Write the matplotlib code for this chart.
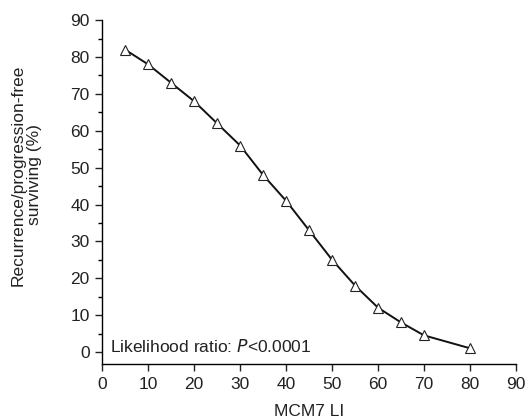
import matplotlib
matplotlib.use('Agg')
import matplotlib.pyplot as plt
from matplotlib.ticker import MultipleLocator

plt.rcParams['font.family'] = ['Liberation Sans', 'DejaVu Sans']

# MCM7 labelling index vs recurrence/progression-free surviving
mcm7_li = [5, 10, 15, 20, 25, 30, 35, 40, 45, 50, 55, 60, 65, 70, 80]
surviving = [82, 78, 73, 68, 62, 56, 48, 41, 33, 25, 18, 12, 8, 4.5, 1]

x_ticks = [0, 10, 20, 30, 40, 50, 60, 70, 80, 90]
y_ticks = [0, 10, 20, 30, 40, 50, 60, 70, 80, 90]

fig = plt.figure(figsize=(5.32, 4.2), dpi=100)
ax = fig.add_axes([0.192, 0.133, 0.778, 0.819])

ax.plot(mcm7_li, surviving, color='#111111', lw=1.4, marker='^',
        ms=7, mfc='white', mec='#222222', mew=0.8)

ax.set_xlim(0, 90)
ax.set_ylim(-3.3, 90)
ax.set_xticks(x_ticks)
ax.set_yticks(y_ticks)
ax.yaxis.set_minor_locator(MultipleLocator(5))

for s in ['top', 'right']:
    ax.spines[s].set_visible(False)
ax.spines['left'].set_linewidth(1.0)
ax.spines['bottom'].set_linewidth(1.0)
ax.tick_params(axis='both', which='major', length=5, width=1.0,
               labelsize=12.5, colors='#222222', pad=4)
ax.tick_params(axis='y', which='minor', length=3, width=1.0)

ax.set_xlabel('MCM7 LI', fontsize=12.5, color='#222222', labelpad=9)
ax.set_ylabel('Recurrence/progression-free\nsurviving (%)', fontsize=12.5,
              color='#222222', linespacing=1.1)
ax.yaxis.set_label_coords(-0.145, 0.55)

ax.text(1.8, 1.5, 'Likelihood ratio: $\\it{P}$<0.0001', fontsize=12.5,
        color='#222222', va='center', ha='left')

plt.savefig('out.png', dpi=100)
